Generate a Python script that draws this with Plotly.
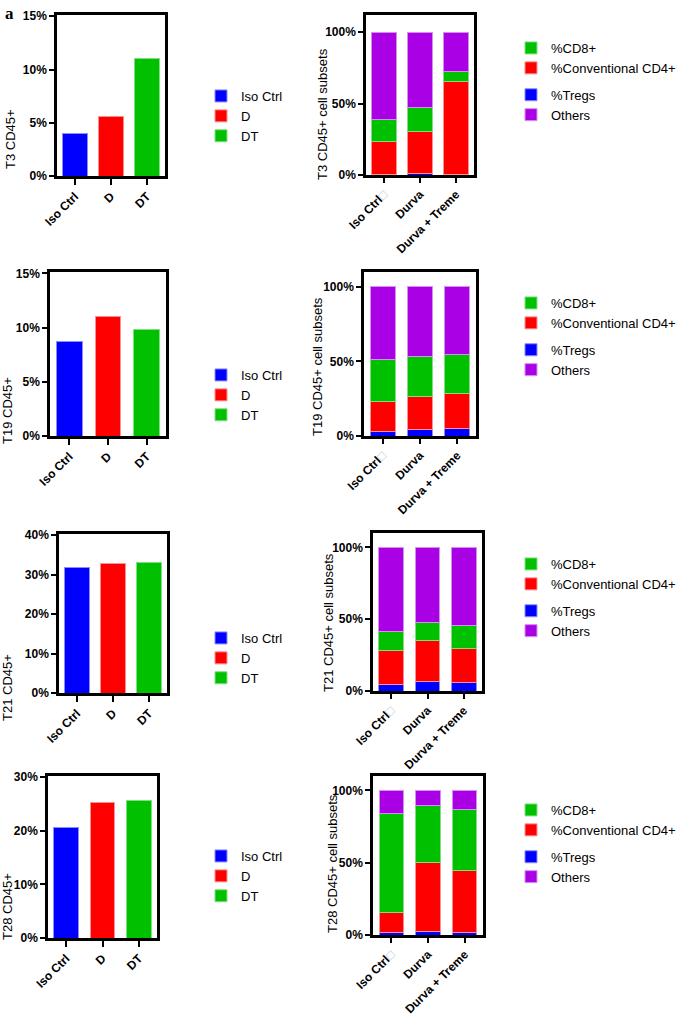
import plotly.graph_objects as go

# ---------------- data ----------------
tumors = ["T3", "T19", "T21", "T28"]
groups = ["Iso Ctrl", "D", "DT"]
treatments = ["Iso Ctrl", "Durva", "Durva + Treme"]

cd45_t3 = [4.0, 5.6, 11.0]
cd45_t19 = [8.7, 11.0, 9.8]
cd45_t21 = [31.7, 32.8, 33.1]
cd45_t28 = [20.7, 25.3, 25.7]

tregs_t3 = [0.3, 1.4, 0.4]
cd4_t3 = [23.0, 29.3, 65.2]
cd8_t3 = [15.5, 16.3, 7.0]
others_t3 = [61.2, 53.0, 27.4]

tregs_t19 = [2.9, 4.2, 5.1]
cd4_t19 = [20.5, 22.6, 23.2]
cd8_t19 = [28.2, 26.5, 26.6]
others_t19 = [48.4, 46.7, 45.1]

tregs_t21 = [4.2, 6.3, 5.8]
cd4_t21 = [23.7, 28.8, 23.7]
cd8_t21 = [13.5, 12.8, 16.3]
others_t21 = [58.6, 52.1, 54.2]

tregs_t28 = [1.4, 2.3, 1.6]
cd4_t28 = [13.9, 48.0, 43.3]
cd8_t28 = [69.1, 39.4, 41.8]
others_t28 = [15.6, 10.3, 13.3]

cd45_ticks = [[0, 5, 10, 15], [0, 5, 10, 15], [0, 10, 20, 30, 40], [0, 10, 20, 30]]
subset_ticks = [0, 50, 100]

# ---------------- style ----------------
W, H = 685, 1016
BLUE, RED, GREEN, PURPLE = "#0000FF", "#FF0000", "#00C000", "#AA00E6"
EDGE = {BLUE: "#8C8CFF", RED: "#FF9090", GREEN: "#80E080", PURPLE: "#D890F0"}
FONT = "Liberation Sans, Arial, sans-serif"

# pixel boxes (left, top, right, bottom)
left_boxes = [(57, 15, 165, 176), (50, 272, 166, 436), (59, 534, 167, 693), (48, 776, 157, 938)]
right_boxes = [(366, 15, 474, 175), (364, 272, 476, 436), (373, 533, 482, 691), (373, 776, 483, 935)]
right_ymax = [112, 110, 110, 110]
left_titles_xy = [(11, 139), (8, 411), (7, 688), (7, 907)]
right_titles_xy = [(322, 114), (317, 367), (328, 623), (332, 864)]
left_legend_top = [81, 360, 623, 841]
right_legend_top = [33, 288, 549, 795]

cd45 = [cd45_t3, cd45_t19, cd45_t21, cd45_t28]
subsets = [
    (tregs_t3, cd4_t3, cd8_t3, others_t3),
    (tregs_t19, cd4_t19, cd8_t19, others_t19),
    (tregs_t21, cd4_t21, cd8_t21, others_t21),
    (tregs_t28, cd4_t28, cd8_t28, others_t28),
]

fig = go.Figure()
layout = dict(
    width=W, height=H, margin=dict(l=0, r=0, t=0, b=0, autoexpand=False),
    paper_bgcolor="white", plot_bgcolor="white",
    barmode="stack", bargap=0.33,
    font=dict(family=FONT, color="black", size=12),
    annotations=[], showlegend=True,
)


def dom_x(a, b):
    return [a / W, b / W]


def dom_y(t, b):
    return [1 - b / H, 1 - t / H]


def axis_common():
    return dict(showline=True, mirror=True, linewidth=2.5, linecolor="black",
                ticks="outside", tickwidth=2, tickcolor="black", ticklen=5, automargin=False,
                showgrid=False, zeroline=False, fixedrange=True,
                tickfont=dict(family=FONT, size=12, color="black", weight="bold"))


iso_tick = "Iso Ctrl<span style='color:#C8C8C8'>\u25a1</span>"

for i, t in enumerate(tumors):
    la = 2 * i + 1
    ra = 2 * i + 2
    lx = "x" if la == 1 else f"x{la}"
    ly = "y" if la == 1 else f"y{la}"
    rx = f"x{ra}"
    ry = f"y{ra}"
    lg = "legend" if i == 0 else f"legend{2 * i + 1}"
    rg = f"legend{2 * i + 2}"

    for g, val, col in zip(groups, cd45[i], [BLUE, RED, GREEN]):
        fig.add_trace(go.Bar(x=[g], y=[val], name=g, marker=dict(color=col, line=dict(color=EDGE[col], width=1)),
                             xaxis=lx, yaxis=ly, legend=lg, width=0.67))

    tr, c4, c8, ot = subsets[i]
    series = [("%Tregs", tr, BLUE, 3, "b"), ("%Conventional CD4+", c4, RED, 2, "a"),
              ("%CD8+", c8, GREEN, 1, "a"), ("Others", ot, PURPLE, 4, "b")]
    for name, vals, col, rank, grp in series:
        fig.add_trace(go.Bar(x=treatments, y=vals, name=name,
                             marker=dict(color=col, line=dict(color=EDGE[col], width=1)),
                             xaxis=rx, yaxis=ry, legend=rg, legendrank=rank, legendgroup=grp + str(i),
                             width=0.67))

    lb = left_boxes[i]
    rb = right_boxes[i]
    ticks = cd45_ticks[i]
    lxa = axis_common()
    lxa.update(domain=dom_x(lb[0], lb[2]), anchor=ly, type="category", tickangle=-45, ticklen=6)
    lya = axis_common()
    lya.update(domain=dom_y(lb[1], lb[3]), anchor=lx, range=[0, ticks[-1] * 1.008],
               tickvals=ticks, ticktext=[f"{v}%" for v in ticks])
    rxa = axis_common()
    rxa.update(domain=dom_x(rb[0], rb[2]), anchor=ry, type="category", tickangle=-45, ticklen=5,
               tickvals=treatments, ticktext=[iso_tick, "Durva", "Durva + Treme"])
    rya = axis_common()
    rya.update(domain=dom_y(rb[1], rb[3]), anchor=rx, range=[0, right_ymax[i]],
               tickvals=subset_ticks, ticktext=[f"{v}%" for v in subset_ticks])

    layout["xaxis" if la == 1 else f"xaxis{la}"] = lxa
    layout["yaxis" if la == 1 else f"yaxis{la}"] = lya
    layout[f"xaxis{ra}"] = rxa
    layout[f"yaxis{ra}"] = rya

    layout[lg] = dict(x=201 / W, xanchor="left", y=1 - left_legend_top[i] / H, yanchor="top",
                      font=dict(family=FONT, size=13), bgcolor="rgba(0,0,0,0)",
                      traceorder="normal", itemclick=False, itemdoubleclick=False)
    layout[rg] = dict(x=511 / W, xanchor="left", y=1 - right_legend_top[i] / H, yanchor="top",
                      font=dict(family=FONT, size=13), bgcolor="rgba(0,0,0,0)",
                      traceorder="grouped", tracegroupgap=7, itemclick=False, itemdoubleclick=False)

    tx, ty = left_titles_xy[i]
    layout["annotations"].append(dict(text=f"{t} CD45+", x=tx / W, y=1 - ty / H, xref="paper", yref="paper",
                                      textangle=-90, showarrow=False, font=dict(family=FONT, size=13),
                                      xanchor="center", yanchor="middle"))
    tx, ty = right_titles_xy[i]
    layout["annotations"].append(dict(text=f"{t} CD45+ cell subsets", x=tx / W, y=1 - ty / H, xref="paper",
                                      yref="paper", textangle=-90, showarrow=False,
                                      font=dict(family=FONT, size=13), xanchor="center", yanchor="middle"))

layout["annotations"].append(dict(text="<b>a</b>", x=3 / W, y=1 - 2 / H, xref="paper", yref="paper",
                                  showarrow=False, xanchor="left", yanchor="top",
                                  font=dict(family="Liberation Serif, Times New Roman, serif", size=17)))

fig.update_layout(**layout)
fig.write_html("out.html", config={"displayModeBar": False},
               post_script="document.body.style.margin='0px';")
